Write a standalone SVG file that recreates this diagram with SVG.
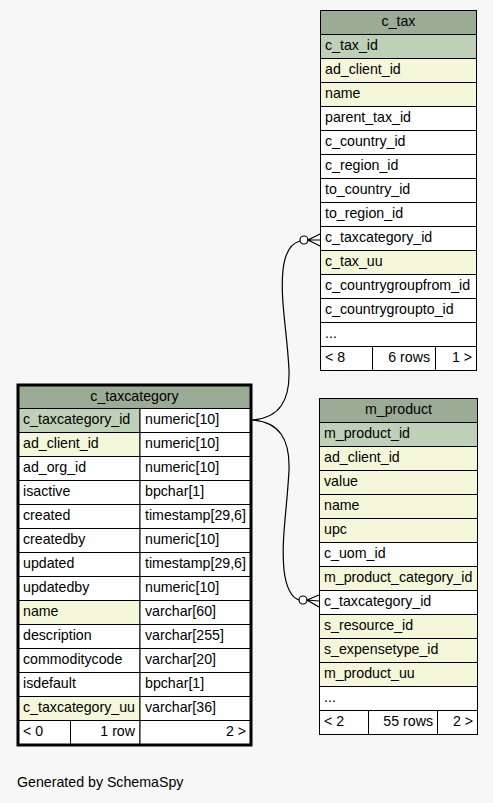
<svg xmlns="http://www.w3.org/2000/svg" width="493" height="803" viewBox="0 0 493 803">
<style>
text{font-family:"Liberation Sans",Arial,sans-serif;font-size:14.2px;fill:#000}
.c{text-anchor:middle}
.r{text-anchor:end}
rect{stroke:#000;stroke-width:1}
.h{fill:#9bab96}
.pk{fill:#bed1b8}
.ix{fill:#f4f7da}
.w{fill:#ffffff}
.thick{fill:none;stroke:#000;stroke-width:3}
.ln{fill:none;stroke:#000;stroke-width:1.2}
</style>
<rect x="0" y="0" width="493" height="803" style="fill:#f7f7f7;stroke:none"/>
<g id="connectors">
<path class="ln" d="M252,420 C280,418 290,400 289,370 C287,330 280,300 283,270 C285,252 292,243 300,241"/>
<circle class="ln" cx="304" cy="240" r="4" style="fill:#fff"/>
<path class="ln" d="M320,234 L308,240 L320,246 M308,240 L320,240"/>
<path class="ln" d="M252,420 C280,422 290,440 289,470 C287,510 281,540 284,570 C286,588 292,598 299,600"/>
<circle class="ln" cx="303" cy="600" r="4" style="fill:#fff"/>
<path class="ln" d="M319,595 L307,600 L319,607 M307,600 L319,601"/>
</g>
<g id="c_tax">
<rect class="h" x="320.5" y="10.5" width="156" height="24"/>
<text class="c" x="398.5" y="26">c_tax</text>
<rect class="pk" x="320.5" y="34.5" width="156" height="24"/><text x="325" y="50">c_tax_id</text>
<rect class="ix" x="320.5" y="58.5" width="156" height="24"/><text x="325" y="74">ad_client_id</text>
<rect class="ix" x="320.5" y="82.5" width="156" height="24"/><text x="325" y="98">name</text>
<rect class="w" x="320.5" y="106.5" width="156" height="24"/><text x="325" y="122">parent_tax_id</text>
<rect class="w" x="320.5" y="130.5" width="156" height="24"/><text x="325" y="146">c_country_id</text>
<rect class="w" x="320.5" y="154.5" width="156" height="24"/><text x="325" y="170">c_region_id</text>
<rect class="w" x="320.5" y="178.5" width="156" height="24"/><text x="325" y="194">to_country_id</text>
<rect class="w" x="320.5" y="202.5" width="156" height="24"/><text x="325" y="218">to_region_id</text>
<rect class="w" x="320.5" y="226.5" width="156" height="24"/><text x="325" y="242">c_taxcategory_id</text>
<rect class="ix" x="320.5" y="250.5" width="156" height="24"/><text x="325" y="266">c_tax_uu</text>
<rect class="w" x="320.5" y="274.5" width="156" height="24"/><text x="325" y="290">c_countrygroupfrom_id</text>
<rect class="w" x="320.5" y="298.5" width="156" height="24"/><text x="325" y="314">c_countrygroupto_id</text>
<rect class="w" x="320.5" y="322.5" width="156" height="24"/><text x="325" y="338">...</text>
<rect class="w" x="320.5" y="346.5" width="52" height="24"/><text x="325" y="362">&lt; 8</text>
<rect class="w" x="372.5" y="346.5" width="63" height="24"/><text class="r" x="430" y="362">6 rows</text>
<rect class="w" x="435.5" y="346.5" width="41" height="24"/><text class="r" x="472" y="362">1 &gt;</text>
</g>
<g id="c_taxcategory">
<rect class="h" x="18.5" y="385.5" width="232" height="23"/>
<text class="c" x="134.5" y="401">c_taxcategory</text>
<rect class="pk" x="18.5" y="408.5" width="121.5" height="24"/><rect class="w" x="140" y="408.5" width="110.5" height="24"/>
<text x="23" y="424">c_taxcategory_id</text><text x="145" y="424">numeric[10]</text>
<rect class="ix" x="18.5" y="432.5" width="121.5" height="24"/><rect class="w" x="140" y="432.5" width="110.5" height="24"/>
<text x="23" y="448">ad_client_id</text><text x="145" y="448">numeric[10]</text>
<rect class="w" x="18.5" y="456.5" width="121.5" height="24"/><rect class="w" x="140" y="456.5" width="110.5" height="24"/>
<text x="23" y="472">ad_org_id</text><text x="145" y="472">numeric[10]</text>
<rect class="w" x="18.5" y="480.5" width="121.5" height="24"/><rect class="w" x="140" y="480.5" width="110.5" height="24"/>
<text x="23" y="496">isactive</text><text x="145" y="496">bpchar[1]</text>
<rect class="w" x="18.5" y="504.5" width="121.5" height="24"/><rect class="w" x="140" y="504.5" width="110.5" height="24"/>
<text x="23" y="520">created</text><text x="145" y="520">timestamp[29,6]</text>
<rect class="w" x="18.5" y="528.5" width="121.5" height="24"/><rect class="w" x="140" y="528.5" width="110.5" height="24"/>
<text x="23" y="544">createdby</text><text x="145" y="544">numeric[10]</text>
<rect class="w" x="18.5" y="552.5" width="121.5" height="24"/><rect class="w" x="140" y="552.5" width="110.5" height="24"/>
<text x="23" y="568">updated</text><text x="145" y="568">timestamp[29,6]</text>
<rect class="w" x="18.5" y="576.5" width="121.5" height="24"/><rect class="w" x="140" y="576.5" width="110.5" height="24"/>
<text x="23" y="592">updatedby</text><text x="145" y="592">numeric[10]</text>
<rect class="ix" x="18.5" y="600.5" width="121.5" height="24"/><rect class="w" x="140" y="600.5" width="110.5" height="24"/>
<text x="23" y="616">name</text><text x="145" y="616">varchar[60]</text>
<rect class="w" x="18.5" y="624.5" width="121.5" height="24"/><rect class="w" x="140" y="624.5" width="110.5" height="24"/>
<text x="23" y="640">description</text><text x="145" y="640">varchar[255]</text>
<rect class="w" x="18.5" y="648.5" width="121.5" height="24"/><rect class="w" x="140" y="648.5" width="110.5" height="24"/>
<text x="23" y="664">commoditycode</text><text x="145" y="664">varchar[20]</text>
<rect class="w" x="18.5" y="672.5" width="121.5" height="24"/><rect class="w" x="140" y="672.5" width="110.5" height="24"/>
<text x="23" y="688">isdefault</text><text x="145" y="688">bpchar[1]</text>
<rect class="ix" x="18.5" y="696.5" width="121.5" height="24"/><rect class="w" x="140" y="696.5" width="110.5" height="24"/>
<text x="23" y="712">c_taxcategory_uu</text><text x="145" y="712">varchar[36]</text>
<rect class="w" x="18.5" y="720.5" width="52" height="24"/><text x="23" y="736">&lt; 0</text>
<rect class="w" x="70.5" y="720.5" width="69.5" height="24"/><text class="r" x="135" y="736">1 row</text>
<rect class="w" x="140" y="720.5" width="110.5" height="24"/><text class="r" x="246" y="736">2 &gt;</text>
<rect class="thick" x="18" y="385" width="233" height="360"/>
</g>
<g id="m_product">
<rect class="h" x="319.5" y="398.5" width="158" height="24"/>
<text class="c" x="398.5" y="414">m_product</text>
<rect class="pk" x="319.5" y="422.5" width="158" height="24"/><text x="324" y="438">m_product_id</text>
<rect class="ix" x="319.5" y="446.5" width="158" height="24"/><text x="324" y="462">ad_client_id</text>
<rect class="ix" x="319.5" y="470.5" width="158" height="24"/><text x="324" y="486">value</text>
<rect class="ix" x="319.5" y="494.5" width="158" height="24"/><text x="324" y="510">name</text>
<rect class="ix" x="319.5" y="518.5" width="158" height="24"/><text x="324" y="534">upc</text>
<rect class="w" x="319.5" y="542.5" width="158" height="24"/><text x="324" y="558">c_uom_id</text>
<rect class="ix" x="319.5" y="566.5" width="158" height="24"/><text x="324" y="582">m_product_category_id</text>
<rect class="w" x="319.5" y="590.5" width="158" height="24"/><text x="324" y="606">c_taxcategory_id</text>
<rect class="ix" x="319.5" y="614.5" width="158" height="24"/><text x="324" y="630">s_resource_id</text>
<rect class="ix" x="319.5" y="638.5" width="158" height="24"/><text x="324" y="654">s_expensetype_id</text>
<rect class="ix" x="319.5" y="662.5" width="158" height="24"/><text x="324" y="678">m_product_uu</text>
<rect class="w" x="319.5" y="686.5" width="158" height="24"/><text x="324" y="702">...</text>
<rect class="w" x="319.5" y="710.5" width="49" height="24"/><text x="324" y="726">&lt; 2</text>
<rect class="w" x="368.5" y="710.5" width="69" height="24"/><text class="r" x="433" y="726">55 rows</text>
<rect class="w" x="437.5" y="710.5" width="40" height="24"/><text class="r" x="473" y="726">2 &gt;</text>
</g>
<text x="17" y="787">Generated by SchemaSpy</text>
</svg>
